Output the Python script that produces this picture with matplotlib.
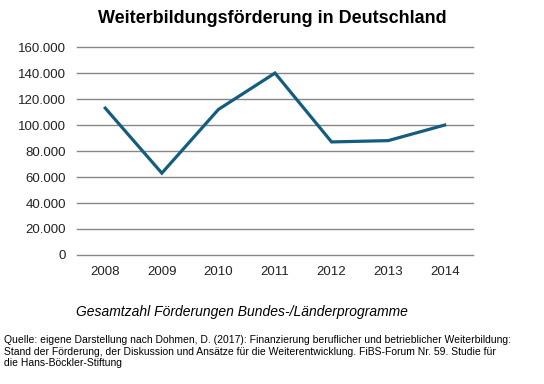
import matplotlib.pyplot as plt
from matplotlib.ticker import FuncFormatter

years = ['2008', '2009', '2010', '2011', '2012', '2013', '2014']
foerderungen = [113000, 63000, 112000, 140000, 87000, 88000, 100000]
yticks = [0, 20000, 40000, 60000, 80000, 100000, 120000, 140000, 160000]

title = 'Weiterbildungsförderung in Deutschland'
subtitle = 'Gesamtzahl Förderungen Bundes-/Länderprogramme'
source = ('Quelle: eigene Darstellung nach Dohmen, D. (2017): Finanzierung beruflicher und betrieblicher Weiterbildung:\n'
          'Stand der Förderung, der Diskussion und Ansätze für die Weiterentwicklung. FiBS-Forum Nr. 59. Studie für\n'
          'die Hans-Böckler-Stiftung')

plt.rcParams['font.family'] = ['Liberation Sans', 'DejaVu Sans']

fig = plt.figure(figsize=(5.44, 3.84), dpi=100)
ax = fig.add_axes([0.1415, 0.336, 0.728, 0.5414])

x = range(len(years))
ax.plot(x, foerderungen, color='#135d7e', linewidth=2.3, solid_joinstyle='miter')

ax.set_xlim(-0.5, len(years) - 0.5)
ax.set_ylim(0, 160000)
ax.set_xticks(list(x))
ax.set_xticklabels(years)
ax.set_yticks(yticks)
ax.yaxis.set_major_formatter(FuncFormatter(lambda v, p: f'{int(v):,}'.replace(',', '.')))
ax.tick_params(length=0, labelsize=9.5, colors='#222222', pad=8)
ax.grid(axis='y', color='#868686', linewidth=1)
for gl in ax.get_ygridlines():
    gl.set_clip_on(False)
ax.set_axisbelow(True)
for s in ax.spines.values():
    s.set_visible(False)

fig.text(0.5, 0.953, title, ha='center', va='center', fontsize=13, fontweight='bold')
fig.text(0.445, 0.187, subtitle, ha='center', va='center', fontsize=10, style='italic')
fig.text(0.008, 0.127, source, ha='left', va='top', fontsize=7.5, linespacing=1.2)

fig.savefig('out.png', dpi=100)
